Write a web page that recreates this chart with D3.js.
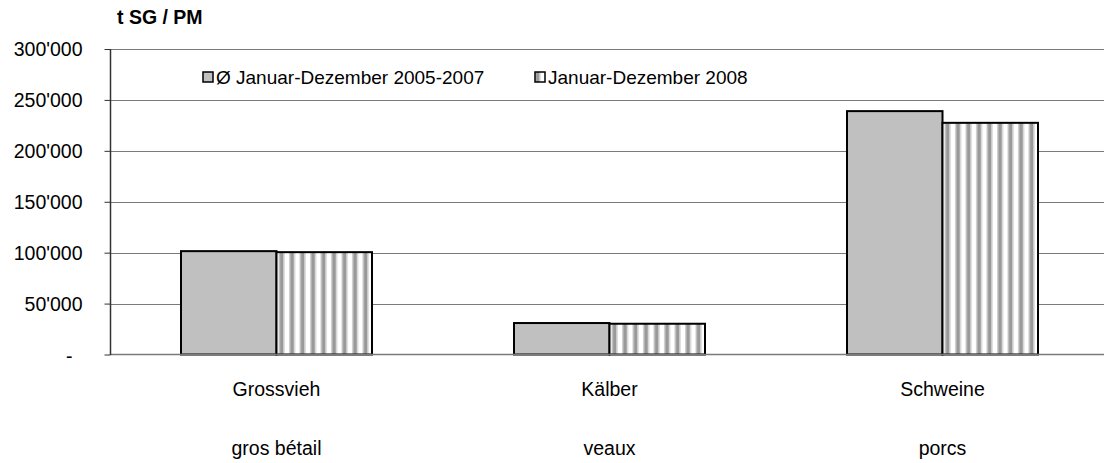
<!DOCTYPE html>
<html>
<head>
<meta charset="utf-8">
<script src="https://cdn.jsdelivr.net/npm/d3@7"></script>
<style>
  html, body { margin: 0; padding: 0; background: #fff; }
  text { font-family: "Liberation Sans", Arial, sans-serif; fill: #000; }
</style>
</head>
<body>
<svg id="chart" width="1104" height="463"></svg>
<script>
const categories = ["Grossvieh", "Kälber", "Schweine"];
const categoriesFr = ["gros bétail", "veaux", "porcs"];
const seriesNames = ["Ø Januar-Dezember 2005-2007", "Januar-Dezember 2008"];
const avg20052007 = [101500, 30900, 239000];
const year2008 = [100500, 30200, 227500];
const yTicks = [0, 50000, 100000, 150000, 200000, 250000, 300000];
const yTickLabels = ["-", "50'000", "100'000", "150'000", "200'000", "250'000", "300'000"];
const yTitle = "t SG / PM";

const svg = d3.select("#chart");
const FS = 19.5;
const plotL = 110.5, plotR = 1109, plotT = 49, plotB = 354.5;

const y = d3.scaleLinear().domain([0, 300000]).range([plotB, plotT]);
const x0 = d3.scaleBand().domain(categories).range([110, plotR]).padding(0);
const groupW = 191;
const x1 = d3.scaleBand().domain([0, 1]).range([0, groupW]).padding(0);
const groupOff = (x0.bandwidth() - groupW) / 2;

const defs = svg.append("defs");
function stripePattern(id, ox) {
  const p = defs.append("pattern").attr("id", id)
    .attr("patternUnits", "userSpaceOnUse")
    .attr("x", ox).attr("y", 0).attr("width", 10.5).attr("height", 10);
  p.append("rect").attr("width", 10.5).attr("height", 10).attr("fill", "#fff");
  p.append("rect").attr("x", 2).attr("width", 1.2).attr("height", 10).attr("fill", "#cfcfcf");
  p.append("rect").attr("x", 3.2).attr("width", 3.8).attr("height", 10).attr("fill", "#999");
  p.append("rect").attr("x", 7).attr("width", 1.2).attr("height", 10).attr("fill", "#cfcfcf");
}

// gridlines
svg.append("g").selectAll("line").data(yTicks.filter(d => d > 0)).join("line")
  .attr("x1", plotL).attr("x2", 1104)
  .attr("y1", d => Math.round(y(d)) + 0.5).attr("y2", d => Math.round(y(d)) + 0.5)
  .attr("stroke", "#7a7a7a").attr("stroke-width", 1.2);

// y axis via d3
const yAxis = d3.axisLeft(y).tickValues(yTicks).tickSize(6).tickPadding(0)
  .tickFormat((d, i) => yTickLabels[i]);
const ag = svg.append("g").attr("transform", `translate(${plotL},0)`).call(yAxis);
ag.select(".domain").remove();
ag.selectAll(".tick line").attr("stroke", "#333").attr("stroke-width", 1);
ag.selectAll(".tick text").remove();
ag.selectAll(".tick").append("text")
  .attr("x", d => d === 0 ? -38 : -28)
  .attr("dy", d => d === 0 ? "0.42em" : "0.35em")
  .attr("text-anchor", "end")
  .style("font-size", FS + "px")
  .text((d, i) => yTickLabels[i]);

// bars
const data = categories.map((c, i) => ({ c, vals: [avg20052007[i], year2008[i]] }));
const g = svg.append("g");
data.forEach((d, ci) => {
  d.vals.forEach((v, si) => {
    const bx = x0(d.c) + groupOff + x1(si);
    let fill = "#c0c0c0";
    if (si === 1) {
      const id = "stripe" + ci;
      stripePattern(id, bx);
      fill = `url(#${id})`;
    }
    g.append("rect")
      .attr("x", bx).attr("y", y(v))
      .attr("width", x1.bandwidth()).attr("height", y(0) - y(v))
      .attr("fill", fill).attr("stroke", "#000").attr("stroke-width", 2);
  });
});

// x baseline
svg.append("line").attr("x1", plotL).attr("x2", 1104)
  .attr("y1", plotB).attr("y2", plotB)
  .attr("stroke", "#7a7a7a").attr("stroke-width", 1.5);
// y axis line
svg.append("line").attr("x1", plotL).attr("x2", plotL)
  .attr("y1", plotT).attr("y2", plotB + 0.5)
  .attr("stroke", "#333").attr("stroke-width", 1.5);

// category labels
svg.append("g").selectAll("text").data(categories).join("text")
  .attr("x", d => x0(d) + x0.bandwidth() / 2).attr("y", 396)
  .attr("text-anchor", "middle").style("font-size", FS + "px").text(d => d);
svg.append("g").selectAll("text").data(categoriesFr).join("text")
  .attr("x", (d, i) => x0(categories[i]) + x0.bandwidth() / 2).attr("y", 455)
  .attr("text-anchor", "middle").style("font-size", FS + "px").text(d => d);

// title
svg.append("text").attr("x", 117).attr("y", 24)
  .style("font-size", FS + "px").style("font-weight", "bold").text(yTitle);

// legend
const legX = [203, 535];
stripePattern("stripeLeg", 535 - 2.5);
seriesNames.forEach((n, i) => {
  svg.append("rect").attr("x", legX[i]).attr("y", 72).attr("width", 10).attr("height", 10)
    .attr("fill", i === 0 ? "#c0c0c0" : "url(#stripeLeg)")
    .attr("stroke", "#000").attr("stroke-width", 1.5);
  svg.append("text").attr("x", legX[i] + 13).attr("y", 84)
    .style("font-size", "19px").text(n);
});
</script>
</body>
</html>
